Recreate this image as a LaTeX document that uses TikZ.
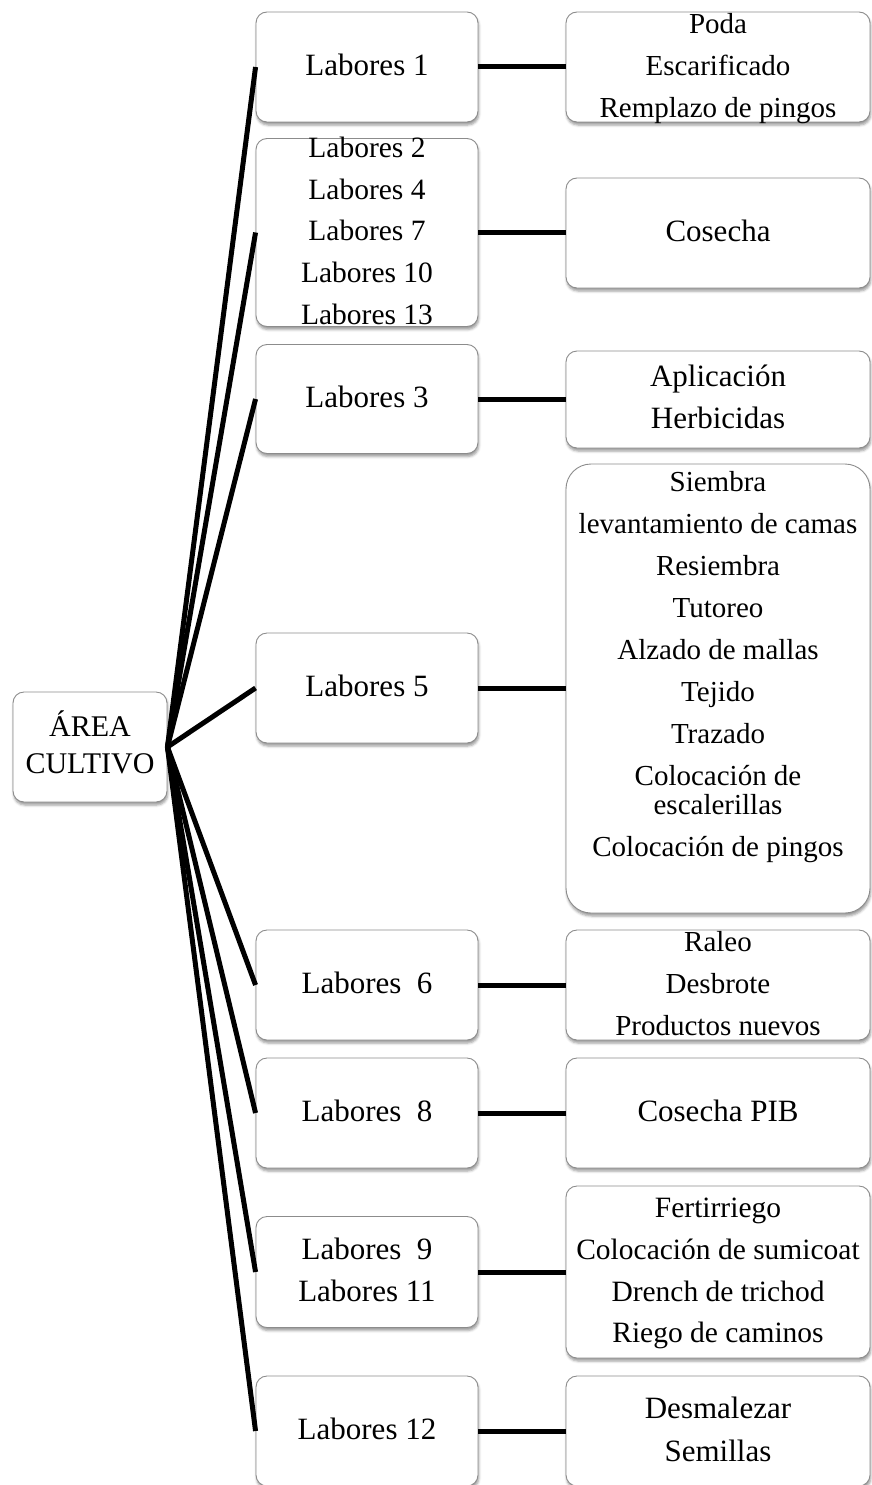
\documentclass[tikz,border=0pt]{standalone}
\usepackage{fontspec}
\setmainfont{Liberation Serif}
\usetikzlibrary{shadows.blur}
\newcommand{\fsz}[2]{\fontsize{#1}{#2}\selectfont}

\begin{document}
\begin{tikzpicture}[x=1pt,y=-1pt,
  card/.style={draw=black!45, line width=0.9pt, fill=white, rounded corners=11pt,
    blur shadow={shadow xshift=0.8pt, shadow yshift=-3pt, shadow blur radius=2.5pt, shadow opacity=40},
    inner sep=0pt},
  midbox/.style={card, minimum width=222pt, minimum height=110pt},
  taskbox/.style={card, minimum width=304pt, minimum height=110pt},
  txt/.style={align=center, inner sep=0pt, text=black},
  big/.style={txt, font=\fsz{31}{42}},
  small/.style={txt, font=\fsz{29}{42}},
  link/.style={line width=5pt, black}
]
\useasboundingbox (0,0) rectangle (872,1485);

% root
\node[card, minimum width=154pt, minimum height=110pt] (root) at (90,747) {};
\node[txt, font=\fsz{30}{37}] at (90,748) {\strut ÁREA\\CULTIVO\strut};

% middle column
\node[midbox] (m1) at (367,67) {};
\node[midbox, minimum height=188pt] (m2) at (367,232.5) {};
\node[midbox, minimum height=109pt] (m3) at (367,399) {};
\node[midbox] (m5) at (367,688) {};
\node[midbox] (m6) at (367,985) {};
\node[midbox] (m8) at (367,1113) {};
\node[midbox, minimum height=111pt] (m9) at (367,1272) {};
\node[midbox] (m12) at (367,1431) {};

\node[big] at (m1) {\strut Labores 1};
\node[txt, font=\fsz{29.5}{41.7}] at (m2) {\strut Labores 2\\Labores 4\\Labores 7\\Labores 10\\Labores 13\strut};
\node[big] at (m3) {\strut Labores 3};
\node[big] at (m5) {\strut Labores 5};
\node[big] at (m6) {\strut Labores\ \ 6};
\node[big] at (m8) {\strut Labores\ \ 8};
\node[big] at (m9) {\strut Labores\ \ 9\\Labores 11\strut};
\node[big] at (m12) {\strut Labores 12};

% right column
\node[taskbox] (r1) at (718,67) {};
\node[taskbox] (r2) at (718,233) {};
\node[taskbox, minimum height=97pt] (r3) at (718,399.5) {};
\node[taskbox, minimum height=449pt, rounded corners=25pt] (r5) at (718,688.5) {};
\node[taskbox] (r6) at (718,985) {};
\node[taskbox] (r8) at (718,1113) {};
\node[taskbox, minimum height=172pt] (r9) at (718,1272) {};
\node[taskbox] (r12) at (718,1431) {};

\node[small] at (r1) {\strut Poda\\Escarificado\\Remplazo de pingos\strut};
\node[big] at (r2) {\strut Cosecha};
\node[big] at (r3) {\strut Aplicación\\Herbicidas\strut};
\node[small] at (718,666) {\strut Siembra\\levantamiento de camas\\Resiembra\\Tutoreo\\Alzado de mallas\\Tejido\\Trazado\\Colocación de\\[-13pt]escalerillas\\Colocación de pingos\strut};
\node[small] at (r6) {\strut Raleo\\Desbrote\\Productos nuevos\strut};
\node[big] at (r8) {\strut Cosecha PIB};
\node[txt, font=\fsz{29.5}{41.7}] at (r9) {\strut Fertirriego\\Colocación de sumicoat\\Drench de trichod\\Riego de caminos\strut};
\node[txt, font=\fsz{31}{43}] at (r12) {\strut Desmalezar\\Semillas\strut};

% connectors from the root
\foreach \m in {m1,m2,m3,m5,m6,m8,m9,m12}
  \draw[link] (root.east) -- (\m.west);

% connectors to the task boxes
\foreach \m/\r in {m1/r1,m2/r2,m3/r3,m5/r5,m6/r6,m8/r8,m9/r9,m12/r12}
  \draw[link] (\m.east) -- (\m.east -| \r.west);
\end{tikzpicture}
\end{document}
